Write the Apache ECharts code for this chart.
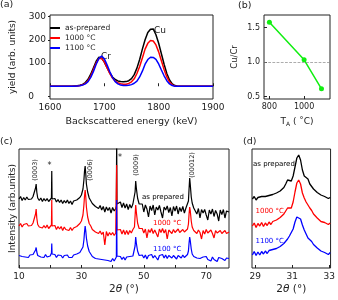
<!DOCTYPE html>
<html><head><meta charset="utf-8">
<script src="https://cdn.jsdelivr.net/npm/echarts@6/dist/echarts.min.js"></script>
<style>html,body{margin:0;padding:0;background:#fff}#c{width:338px;height:300px}</style>
</head><body><div id="c"></div>
<script>
// ---------- Panel (a): RBS spectra ----------
const energyA = [1600, 1640, 1645, 1650, 1655, 1660, 1665, 1670, 1675, 1680, 1685, 1690, 1695, 1700, 1705, 1710, 1715, 1720, 1725, 1730, 1735, 1740, 1745, 1750, 1755, 1760, 1765, 1770, 1775, 1780, 1785, 1790, 1795, 1800, 1805, 1810, 1815, 1820, 1825, 1830, 1835, 1840, 1900];
const yieldAsPrep = [0, 0, 1, 2, 4, 8, 16, 30, 52, 80, 108, 125, 121, 104, 80, 57, 40, 29, 23, 20, 19, 20, 24, 33, 50, 78, 115, 160, 200, 232, 246, 247, 222, 185, 140, 95, 55, 27, 10, 3, 0, 0, 0];
const yield1000 = [0, 0, 0, 1, 3, 6, 12, 24, 44, 72, 100, 120, 120, 105, 80, 55, 35, 22, 15, 11, 9, 9, 12, 19, 32, 55, 85, 122, 160, 185, 197, 195, 178, 148, 110, 72, 40, 18, 6, 1, 0, 0, 0];
const yield1100 = [0, 0, 0, 1, 2, 5, 10, 20, 38, 64, 95, 120, 130, 118, 92, 63, 38, 20, 10, 5, 3, 3, 4, 7, 13, 22, 40, 65, 95, 115, 125, 124, 116, 96, 70, 45, 24, 10, 3, 0, 0, 0, 0];
const ticksAx = [1600, 1700, 1800, 1900];
const ticksAyLabels = ['0', '100', '200', '300'];

// ---------- Panel (b): Cu/Cr ratio ----------
const annealT = [800, 1000, 1100];
const cuCrRatio = [1.576, 1.033, 0.614];
const ticksBx = [800, 1000];
const ticksBy = [0.5, 1.0, 1.5];

// ---------- Panel (c): XRD wide scan ----------
const twoThetaC = [10, 10.5, 11, 11.5, 12, 12.5, 13, 13.5, 14, 14.5, 15,
  15.3, 15.5, 15.7,
  16, 16.5, 17, 17.5, 18, 18.5, 19, 19.5, 20,
  20.4, 20.5, 20.6,
  21, 21.5, 22, 22.5, 23, 23.5, 24, 24.5, 25, 25.5, 26, 26.5, 27, 27.5, 28, 28.5, 29, 29.5, 30, 30.5,
  30.8, 31, 31.2, 31.4, 31.6,
  32, 32.5, 33, 33.5, 34, 34.5, 35, 35.5, 36, 36.5, 37, 37.5, 38, 38.5, 39, 39.5, 40, 40.5, 41,
  41.2, 41.3, 41.4,
  42, 42.5, 43, 43.5, 44, 44.5, 45, 45.5, 46, 46.5, 47,
  47.2, 47.4, 47.6,
  48, 48.5, 49, 49.5, 50, 50.5, 51, 51.5, 52, 52.5, 53, 53.5, 54, 54.5, 55, 55.5, 56, 56.5, 57, 57.5, 58, 58.5, 59, 59.5, 60, 60.5, 61, 61.5, 62, 62.5, 63, 63.5, 64,
  64.3, 64.5, 64.7, 64.9, 65.2,
  65.5, 66, 66.5, 67, 67.5, 68, 68.5, 69, 69.5, 70, 70.5, 71, 71.5, 72, 72.5, 73, 73.5, 74, 74.5, 75, 75.5, 76, 76.5, 77,
  77.3];
const xrdAsPrep = [69, 71.5, 67.5, 70.5, 68, 71, 68.5, 70.5, 69, 71.5, 73,
  80, 84, 76,
  70, 67.5, 70, 66.5, 69.5, 67, 69.5, 66.5, 68.5,
  70, 97, 69,
  67, 69.5, 66, 68.5, 65.5, 68, 64.5, 67.5, 65, 68, 64.5, 67, 63.5, 67, 65.5, 68, 67.5, 70.5, 73, 79,
  88, 97, 102, 94, 84,
  76, 70, 68.5, 64.5, 66, 61.5, 63.5, 59.5, 62.5, 58, 61.5, 56, 61, 57.5, 60.5, 55, 60.5, 57, 59.5,
  62, 135, 64,
  63, 66, 60.5, 65, 60, 64, 58.5, 63.5, 60, 64, 66,
  76, 87, 80,
  70, 64, 62.5, 64, 56, 63, 59, 51, 62, 57.5, 63, 53, 61, 58, 62.5, 56, 50, 61, 58, 62, 55.5, 60.5, 52, 61.5, 57, 62, 54, 60.5, 56.5, 61.5, 55, 60, 62,
  67, 79, 90, 83, 71,
  65, 60, 59.5, 54, 59.5, 50, 58.5, 55, 58.5, 53, 48, 58, 54, 59, 51.5, 57.5, 54, 47, 58, 53.5, 58.5, 50, 57, 55,
  56];
const xrd1000 = [42, 44.5, 41, 43.5, 41.5, 44.5, 42, 44, 42.5, 45, 47,
  54, 59, 50,
  43.5, 41, 42.5, 40, 42.5, 40, 43, 39.5, 41,
  43, 68, 42,
  40, 42.5, 38.5, 41.5, 39, 41.5, 37.5, 41, 38.5, 40.5, 37.5, 40.5, 37.5, 40, 39.5, 41.5, 42, 44.5, 47, 53,
  63, 72, 78, 71, 61,
  51, 44.5, 42, 38.5, 39.5, 36, 37.5, 34.5, 37, 33.5, 36, 23, 36.5, 32, 35.5, 33, 35.5, 32.5, 35,
  37, 103, 38,
  36, 38.5, 34, 38, 33.5, 37.5, 33.5, 37.5, 35, 38.5, 41,
  52, 63, 56,
  45, 39.5, 38, 39.5, 35, 39, 30, 38.5, 35.5, 39.5, 34.5, 38, 38.5, 31, 39, 35.5, 39.5, 35, 38.5, 29, 38, 39, 34.5, 38.5, 35.5, 34, 39, 35.5, 35, 38.5, 36, 35.5, 39,
  44, 54, 61, 57, 47,
  41, 37.5, 37.5, 34.5, 38, 35.5, 29, 37.5, 34, 38.5, 35, 33.5, 38, 34.5, 30, 37.5, 35, 33, 37.5, 34.5, 33, 37.5, 34.5, 35.5,
  36];
const xrd1100 = [12.5, 14, 11.5, 13.5, 11, 13, 10.5, 13, 11.5, 13.5, 14,
  18, 20.5, 16,
  12.5, 13.5, 11, 12.5, 10.5, 13.5, 11, 13, 12,
  15, 24.5, 14,
  12, 13.5, 10.5, 13, 11, 12.5, 10, 12.5, 11, 13, 10.5, 12.5, 10.5, 13, 12, 14, 13.5, 15.5, 17, 21,
  28, 36, 42, 37, 30,
  22, 16.5, 14, 11.5, 12.5, 9.5, 11, 9, 10.5, 8.5, 10, 8, 10, 7.5, 9.5, 6.5, 9.5, 7, 9,
  11, 68, 12,
  10, 11.5, 8.5, 11, 8, 11, 9, 11.5, 9.5, 12, 14,
  22, 31, 25,
  17, 12.5, 12, 13, 10, 13, 9, 12.5, 10.5, 13.5, 10, 12.5, 12.5, 8, 12.5, 10.5, 13.5, 10, 13, 9.5, 12.5, 13, 10, 12.5, 10.5, 9, 12.5, 10.5, 10, 13, 10.5, 12, 13.5,
  17, 25, 31, 27, 19,
  14, 11.5, 11, 10, 11, 9.5, 8, 11, 9, 11.5, 8.5, 10.5, 7, 11, 8.5, 10.5, 6.5, 10.5, 8.5, 9.5, 9, 7.5, 10, 8.5,
  9.5];
const ticksCx = [10, 20, 30, 40, 50, 60, 70];
const labelsCx = [10, 30, 50, 70];

// ---------- Panel (d): XRD zoom on (0006) ----------
const twoThetaD = [28.85, 28.95, 29.05, 29.15, 29.25, 29.35, 29.45, 29.55, 29.65, 29.75, 29.85, 29.95, 30.05, 30.15, 30.25, 30.35, 30.45, 30.55, 30.65, 30.75, 30.85, 30.95, 31.05, 31.15, 31.25, 31.35, 31.45, 31.55, 31.65, 31.75, 31.85, 31.95, 32.05, 32.15, 32.25, 32.35, 32.45, 32.55, 32.65, 32.75, 32.85, 32.95, 33.05];
const zoomAsPrep = [69, 71.5, 68, 70.5, 70, 71.5, 69.5, 71.5, 70.5, 72.5, 71, 73.5, 72, 75, 74.5, 77, 78, 80.5, 84, 88, 89.5, 87, 92, 101, 110, 113, 108, 98, 92, 90, 89, 84, 81.5, 79, 78.5, 75.5, 75.5, 73, 73.5, 71.5, 72, 69.5, 70.5];
const zoom1000 = [42, 45, 40.5, 44.5, 42, 45.5, 41.5, 45, 42.5, 46, 43.5, 46.5, 45, 48, 47, 50.5, 50, 54, 56, 60, 62, 60, 66, 76, 85, 88, 84, 75, 70, 66, 64, 60, 57.5, 54, 54, 50, 51.5, 46.5, 48.5, 45.5, 47.5, 43.5, 45];
const zoom1100 = [13, 16.5, 12.5, 16, 13, 16.5, 14, 17, 14.5, 17.5, 15.5, 18.5, 17, 19.5, 19, 21.5, 22, 24.5, 26, 29, 32, 34, 39, 46, 51, 52, 49, 43, 38, 34, 30, 28, 26.5, 23.5, 23, 20, 20.5, 17, 18.5, 15.5, 17, 13.5, 15.5];
const ticksDx = [29, 31, 33];

// ---------- build ----------
const FONT = 'DejaVu Sans';
const INK = '#222';
const pairs = (xs, ys) => xs.map((x, i) => [x, ys[i]]);

const frame = { show: true, borderColor: INK, borderWidth: 1, backgroundColor: 'transparent' };
function xAx(gi, min, max, ticks, labels, fs, extra) {
  return Object.assign({
    gridIndex: gi, type: 'value', min: min, max: max,
    axisLine: { show: false }, splitLine: { show: false },
    axisTick: { show: true, inside: true, length: 3, customValues: ticks, lineStyle: { color: INK } },
    axisLabel: { customValues: labels, formatter: v => String(v), fontSize: fs, color: INK, fontFamily: FONT, margin: 4 },
    nameLocation: 'middle',
    nameTextStyle: { color: INK, fontFamily: FONT }
  }, extra);
}
// panel (a) y axis: the original labels its lowest tick "0" at the frame bottom
const yMinA = -55, yMaxA = 307;
const zeroLabelPosA = -45;
const yPosA = [100, 200, 300];
const gridA = { left: 38, top: 15, width: 175, height: 84 };
const zeroLabelY = gridA.top + gridA.height * (yMaxA - zeroLabelPosA) / (yMaxA - yMinA);

const graphics = [
  { type: 'text', left: 0, top: 0, style: { text: '(a)', fontSize: 9.5, fill: INK, fontFamily: FONT } },
  { type: 'text', left: 238, top: 1, style: { text: '(b)', fontSize: 9.5, fill: INK, fontFamily: FONT } },
  { type: 'text', left: 0, top: 137, style: { text: '(c)', fontSize: 9.5, fill: INK, fontFamily: FONT } },
  { type: 'text', left: 243, top: 137, style: { text: '(d)', fontSize: 9.5, fill: INK, fontFamily: FONT } },
  { type: 'text', x: gridA.left - 4, y: zeroLabelY, style: { text: ticksAyLabels[0], fontSize: 9, fill: INK, fontFamily: FONT, align: 'right', verticalAlign: 'middle' } },
  { type: 'text', x: 154, y: 31, style: { text: 'Cu', fontSize: 9, fill: INK, fontFamily: FONT, verticalAlign: 'middle' } },
  { type: 'text', x: 101, y: 57, style: { text: 'Cr', fontSize: 9, fill: INK, fontFamily: FONT, verticalAlign: 'middle' } },
  { type: 'text', x: 35, y: 170, rotation: Math.PI / 2, style: { text: '(0003)', fontSize: 6.5, fill: INK, fontFamily: FONT, align: 'center', verticalAlign: 'middle' } },
  { type: 'text', x: 49.5, y: 166, style: { text: '*', fontSize: 8, fill: INK, fontFamily: FONT, align: 'center', verticalAlign: 'middle' } },
  { type: 'text', x: 90, y: 170, rotation: Math.PI / 2, style: { text: '(0006)', fontSize: 6.5, fill: INK, fontFamily: FONT, align: 'center', verticalAlign: 'middle' } },
  { type: 'text', x: 120, y: 158, style: { text: '*', fontSize: 8, fill: INK, fontFamily: FONT, align: 'center', verticalAlign: 'middle' } },
  { type: 'text', x: 136, y: 165, rotation: Math.PI / 2, style: { text: '(0009)', fontSize: 6.5, fill: INK, fontFamily: FONT, align: 'center', verticalAlign: 'middle' } },
  { type: 'text', x: 192, y: 165, rotation: Math.PI / 2, style: { text: '(00012)', fontSize: 6.5, fill: INK, fontFamily: FONT, align: 'center', verticalAlign: 'middle' } },
  { type: 'text', x: 142, y: 197, style: { text: 'as prepared', fontSize: 7, fill: '#000', fontFamily: FONT, verticalAlign: 'middle' } },
  { type: 'text', x: 153, y: 223, style: { text: '1000 °C', fontSize: 7, fill: '#ff0000', fontFamily: FONT, verticalAlign: 'middle' } },
  { type: 'text', x: 153, y: 249, style: { text: '1100 °C', fontSize: 7, fill: '#0000ff', fontFamily: FONT, verticalAlign: 'middle' } },
  { type: 'text', x: 253, y: 164, style: { text: 'as prepared', fontSize: 7, fill: '#000', fontFamily: FONT, verticalAlign: 'middle' } },
  { type: 'text', x: 255.5, y: 211.5, style: { text: '1000 °C', fontSize: 7, fill: '#ff0000', fontFamily: FONT, verticalAlign: 'middle' } },
  { type: 'text', x: 255.5, y: 241.5, style: { text: '1100 °C', fontSize: 7, fill: '#0000ff', fontFamily: FONT, verticalAlign: 'middle' } }
];

const option = {
  animation: false,
  textStyle: { fontFamily: FONT },
  grid: [
    Object.assign({}, gridA, frame),
    Object.assign({ left: 264, top: 15, width: 66, height: 84 }, frame),
    Object.assign({ left: 16, top: 149, width: 213, height: 119 }, frame),
    Object.assign({ left: 252, top: 149, width: 80, height: 119 }, frame)
  ],
  xAxis: [
    xAx(0, 1600, 1900, ticksAx, ticksAx, 9, { name: 'Backscattered energy (keV)', nameGap: 18, nameTextStyle: { color: INK, fontFamily: FONT, fontSize: 9.5 } }),
    xAx(1, 769, 1149, ticksBx, ticksBx, 8, {
      name: 'T{s|A} ( ˚C)', nameGap: 17,
      nameTextStyle: { color: INK, fontFamily: FONT, fontSize: 9, rich: { s: { fontSize: 6, fontFamily: FONT, color: INK, padding: [5, 0, 0, 0] } } }
    }),
    xAx(2, 10, 77.3, ticksCx, labelsCx, 9, {
      name: '2{i|θ} (°)', nameGap: 16,
      nameTextStyle: { color: INK, fontFamily: FONT, fontSize: 10.5, rich: { i: { fontStyle: 'italic', fontSize: 10.5, fontFamily: FONT, color: INK } } }
    }),
    xAx(3, 28.83, 33.07, ticksDx, ticksDx, 9, {
      name: '2{i|θ} (°)', nameGap: 16,
      nameTextStyle: { color: INK, fontFamily: FONT, fontSize: 10.5, rich: { i: { fontStyle: 'italic', fontSize: 10.5, fontFamily: FONT, color: INK } } }
    })
  ],
  yAxis: [
    {
      gridIndex: 0, type: 'value', min: yMinA, max: yMaxA,
      axisLine: { show: false }, splitLine: { show: false },
      axisTick: { show: true, inside: false, length: 2, customValues: [zeroLabelPosA].concat(yPosA), lineStyle: { color: INK } },
      axisLabel: { customValues: yPosA, formatter: v => ticksAyLabels[yPosA.indexOf(v) + 1], fontSize: 9, color: INK, fontFamily: FONT, margin: 4 },
      name: 'yield (arb. units)', nameLocation: 'middle', nameGap: 33,
      nameTextStyle: { color: INK, fontFamily: FONT, fontSize: 9 }
    },
    {
      gridIndex: 1, type: 'value', min: 0.467, max: 1.68,
      axisLine: { show: false }, splitLine: { show: false },
      axisTick: { show: true, inside: true, length: 3, customValues: ticksBy, lineStyle: { color: INK } },
      axisLabel: { customValues: ticksBy, formatter: v => v.toFixed(1), fontSize: 8, color: INK, fontFamily: FONT, margin: 4 },
      name: 'Cu/Cr', nameLocation: 'middle', nameGap: 25,
      nameTextStyle: { color: INK, fontFamily: FONT, fontSize: 8.5 }
    },
    {
      gridIndex: 2, type: 'value', min: 0, max: 119,
      axisLine: { show: false }, splitLine: { show: false }, axisTick: { show: false }, axisLabel: { show: false },
      name: 'Intensity (arb.units)', nameLocation: 'middle', nameGap: 2,
      nameTextStyle: { color: INK, fontFamily: FONT, fontSize: 9 }
    },
    {
      gridIndex: 3, type: 'value', min: 0, max: 119,
      axisLine: { show: false }, splitLine: { show: false }, axisTick: { show: false }, axisLabel: { show: false }
    }
  ],
  legend: {
    left: 45, top: 19, orient: 'vertical', icon: 'rect', itemWidth: 10, itemHeight: 2, itemGap: 2,
    textStyle: { fontSize: 7.5, color: INK, fontFamily: FONT },
    data: ['as-prepared', '1000 °C', '1100 °C']
  },
  series: [
    { name: 'as-prepared', type: 'line', xAxisIndex: 0, yAxisIndex: 0, data: pairs(energyA, yieldAsPrep), showSymbol: false, lineStyle: { color: '#000', width: 1.5 }, itemStyle: { color: '#000' } },
    { name: '1000 °C', type: 'line', xAxisIndex: 0, yAxisIndex: 0, data: pairs(energyA, yield1000), showSymbol: false, lineStyle: { color: '#ff0000', width: 1.5 }, itemStyle: { color: '#ff0000' } },
    { name: '1100 °C', type: 'line', xAxisIndex: 0, yAxisIndex: 0, data: pairs(energyA, yield1100), showSymbol: false, lineStyle: { color: '#0000ff', width: 1.5 }, itemStyle: { color: '#0000ff' } },
    {
      name: 'Cu/Cr', type: 'line', xAxisIndex: 1, yAxisIndex: 1, data: pairs(annealT, cuCrRatio),
      symbol: 'circle', symbolSize: 5, lineStyle: { color: '#11ee11', width: 1.5 }, itemStyle: { color: '#11ee11' },
      markLine: { silent: true, symbol: 'none', label: { show: false }, lineStyle: { color: '#888', type: 'dashed', width: 0.7 }, data: [{ yAxis: 1.0 }] }
    },
    { name: 'c as prepared', type: 'line', xAxisIndex: 2, yAxisIndex: 2, data: pairs(twoThetaC, xrdAsPrep), showSymbol: false, lineStyle: { color: '#000', width: 1.2 } },
    { name: 'c 1000', type: 'line', xAxisIndex: 2, yAxisIndex: 2, data: pairs(twoThetaC, xrd1000), showSymbol: false, lineStyle: { color: '#ff0000', width: 1.2 } },
    { name: 'c 1100', type: 'line', xAxisIndex: 2, yAxisIndex: 2, data: pairs(twoThetaC, xrd1100), showSymbol: false, lineStyle: { color: '#0000ff', width: 1.2 } },
    { name: 'd as prepared', type: 'line', xAxisIndex: 3, yAxisIndex: 3, data: pairs(twoThetaD, zoomAsPrep), showSymbol: false, lineStyle: { color: '#000', width: 1.3 } },
    { name: 'd 1000', type: 'line', xAxisIndex: 3, yAxisIndex: 3, data: pairs(twoThetaD, zoom1000), showSymbol: false, lineStyle: { color: '#ff0000', width: 1.3 } },
    { name: 'd 1100', type: 'line', xAxisIndex: 3, yAxisIndex: 3, data: pairs(twoThetaD, zoom1100), showSymbol: false, lineStyle: { color: '#0000ff', width: 1.3 } }
  ],
  graphic: { elements: graphics }
};

const chart = echarts.init(document.getElementById('c'), null, { renderer: 'canvas' });
chart.setOption(option);
</script>
</body></html>
